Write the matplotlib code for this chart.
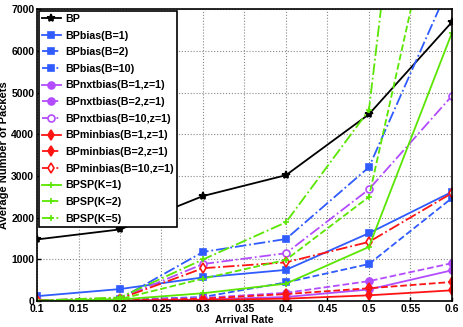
import numpy as np
import matplotlib.pyplot as plt

# %% Data
rate = [0.1, 0.2, 0.3, 0.4, 0.5, 0.6]

bp = [1480, 1720, 2520, 3020, 4480, 6690]

bias_b1 = [120, 290, 570, 750, 1630, 2620]
bias_b2 = [10, 30, 100, 450, 890, 2470]
bias_b10 = [20, 60, 1180, 1490, 3210, 7700]

nxt_b1 = [5, 15, 40, 100, 280, 740]
nxt_b2 = [10, 30, 80, 200, 480, 910]
nxt_b10 = [20, 70, 890, 1150, 2680, 4920]

min_b1 = [5, 10, 30, 60, 140, 260]
min_b2 = [10, 20, 60, 170, 310, 460]
min_b10 = [20, 60, 790, 930, 1420, 2590]

sp_k1 = [5, 40, 190, 420, 1300, 6430]
sp_k2 = [10, 50, 540, 990, 2500, 11400]
sp_k5 = [15, 90, 1000, 1890, 4580, 21300]

labels = ['BP', 'BPbias(B=1)', 'BPbias(B=2)', 'BPbias(B=10)',
          'BPnxtbias(B=1,z=1)', 'BPnxtbias(B=2,z=1)', 'BPnxtbias(B=10,z=1)',
          'BPminbias(B=1,z=1)', 'BPminbias(B=2,z=1)', 'BPminbias(B=10,z=1)',
          'BPSP(K=1)', 'BPSP(K=2)', 'BPSP(K=5)']

blue = '#2f5bff'
purple = '#b34cff'
red = '#ff1414'
green = '#5ae600'

series = [
    (bp, 'k', '-', '*', True),
    (bias_b1, blue, '-', 's', True),
    (bias_b2, blue, '--', 's', True),
    (bias_b10, blue, '-.', 's', True),
    (nxt_b1, purple, '-', 'o', True),
    (nxt_b2, purple, '--', 'o', True),
    (nxt_b10, purple, '-.', 'o', False),
    (min_b1, red, '-', 'd', True),
    (min_b2, red, '--', 'd', True),
    (min_b10, red, '-.', 'd', False),
    (sp_k1, green, '-', '+', True),
    (sp_k2, green, '--', '+', True),
    (sp_k5, green, '-.', '+', True),
]

plt.rcParams['font.family'] = ['Liberation Sans', 'DejaVu Sans']
plt.rcParams['font.weight'] = 'bold'

fig = plt.figure(figsize=(4.63, 3.27), dpi=100)
ax = fig.add_axes([0.08, 0.079, 0.896, 0.893])

for (y, c, ls, m, filled), lab in zip(series, labels):
    ax.plot(rate, y, color=c, linestyle=ls, marker=m, label=lab,
            linewidth=1.3, markersize=5 if m != '*' else 6,
            markerfacecolor=c if filled else 'white',
            markeredgecolor=c, markeredgewidth=1.2)

ax.set_xlim(0.1, 0.6)
ax.set_ylim(0, 7000)
ax.set_xticks(np.arange(0.1, 0.61, 0.05))
ax.set_xticklabels(['0.1', '0.15', '0.2', '0.25', '0.3', '0.35', '0.4',
                    '0.45', '0.5', '0.55', '0.6'])
ax.set_yticks(np.arange(0, 7001, 1000))
ax.tick_params(labelsize=7.5, direction='in', length=3, width=1, pad=2)
for lbl in ax.get_xticklabels() + ax.get_yticklabels():
    lbl.set_fontweight('bold')
ax.grid(True, linestyle=':', color='#888888', linewidth=0.8)
for s in ax.spines.values():
    s.set_linewidth(1.2)

ax.set_xlabel('Arrival Rate', fontsize=7.5, fontweight='bold', labelpad=1)
ax.set_ylabel('Average Number of Packets', fontsize=8, fontweight='bold')
ax.yaxis.set_label_coords(-0.068, 0.5)

leg = ax.legend(loc='upper left', fontsize=7.7, frameon=True, fancybox=False,
                edgecolor='k', framealpha=1, borderaxespad=0.15,
                handlelength=1.8, labelspacing=0.62, borderpad=0.3,
                handletextpad=0.35)
leg.get_frame().set_linewidth(1.2)
for t in leg.get_texts():
    t.set_fontweight('bold')

fig.savefig('out.png', dpi=100)
